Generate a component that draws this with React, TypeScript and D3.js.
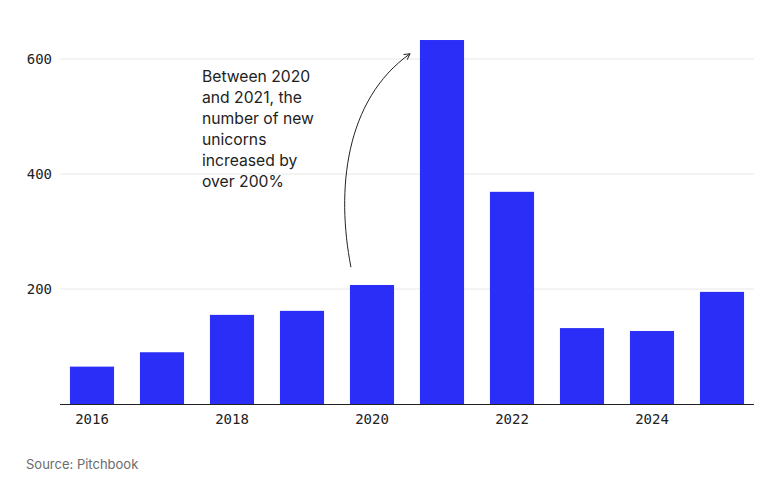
import { useMemo } from 'react';
import * as d3 from 'd3';

const years = ['2016', '2017', '2018', '2019', '2020', '2021', '2022', '2023', '2024', '2025'];
const newUnicorns = [65, 90, 155, 162, 207, 633, 369, 132, 127, 195];
const yTicks = [200, 400, 600];
const xTickLabels = ['2016', '2018', '2020', '2022', '2024'];
const noteLines = ['Between 2020', 'and 2021, the', 'number of new', 'unicorns', 'increased by', 'over 200%'];

const W = 760;
const H = 488;
const BAR = '#2a2ef6';
const MONO = '"DejaVu Sans Mono", monospace';
const SANS = 'Inter, "Noto Sans", sans-serif';

export default function App() {
  const x = useMemo(
    () => d3.scaleBand<string>().domain(years).range([57, 757]).paddingInner(0.37).paddingOuter(0.185),
    []
  );
  const y = useMemo(() => d3.scaleLinear().domain([0, 600]).range([404, 59]), []);

  // curved arrow from the 2020 bar up to the 2021 bar
  const arrowPath = useMemo(() => {
    const a = x('2020')!;
    const b = x('2021')!;
    const path = d3.path();
    path.moveTo(a + 1, y(238));
    path.bezierCurveTo(a - 14, y(372), a - 5, y(529), b - 10, y(609));
    return path.toString();
  }, [x, y]);

  return (
    <svg width={W} height={H} style={{ position: 'absolute', left: 0, top: 0, background: '#fff' }}>
      <defs>
        <marker id="arrowhead" viewBox="0 0 10 10" refX="8" refY="5" markerWidth="8" markerHeight="8" orient="auto">
          <path d="M1,1 L8,5 L1,9" fill="none" stroke="#222" strokeWidth="1.2" />
        </marker>
      </defs>

      {/* gridlines + y labels */}
      {yTicks.map((t) => (
        <g key={t}>
          <line x1={60} x2={754} y1={y(t)} y2={y(t)} stroke="#e8e8e8" strokeWidth={1} />
          <text x={52} y={y(t) + 5} textAnchor="end" fontFamily={MONO} fontSize={14} fill="#222">
            {t}
          </text>
        </g>
      ))}

      {/* bars */}
      {years.map((yr, i) => (
        <rect
          key={yr}
          x={x(yr)}
          y={y(newUnicorns[i])}
          width={x.bandwidth()}
          height={y(0) - y(newUnicorns[i])}
          fill={BAR}
        />
      ))}

      {/* baseline */}
      <line x1={60} x2={754} y1={y(0) + 0.5} y2={y(0) + 0.5} stroke="#222" strokeWidth={1} />

      {/* x labels */}
      {xTickLabels.map((yr) => (
        <text
          key={yr}
          x={x(yr)! + x.bandwidth() / 2}
          y={424}
          textAnchor="middle"
          fontFamily={MONO}
          fontSize={14}
          fill="#222"
        >
          {yr}
        </text>
      ))}

      {/* annotation */}
      <text fontFamily={SANS} fontSize={15.7} fill="#222">
        {noteLines.map((l, i) => (
          <tspan key={i} x={202} y={82 + i * 21}>
            {l}
          </tspan>
        ))}
      </text>
      <path d={arrowPath} fill="none" stroke="#222" strokeWidth={1} markerEnd="url(#arrowhead)" />

      <text x={26} y={469} fontFamily={SANS} fontSize={13} fill="#6b6b6b">
        Source: Pitchbook
      </text>
    </svg>
  );
}
